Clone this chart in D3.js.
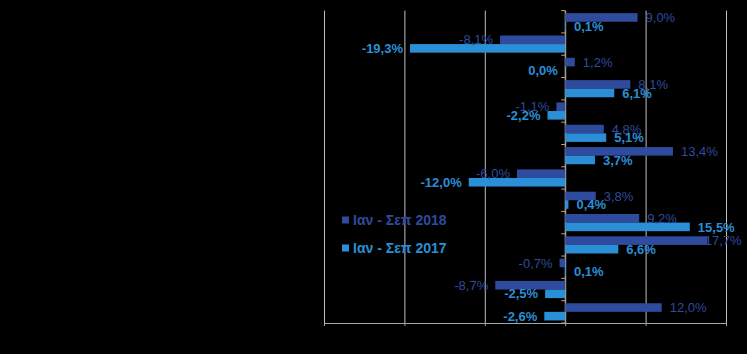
<!DOCTYPE html>
<html lang="el">
<head>
<meta charset="utf-8" />
<title>Ιαν - Σεπ 2018 / 2017</title>
<script src="https://cdnjs.cloudflare.com/ajax/libs/d3/7.8.5/d3.min.js"></script>
<style>
    html, body { margin: 0; padding: 0; background: #000; }
    svg { display: block; font-family: Arial, "Liberation Sans", sans-serif; }
    .lbl { font-size: 13px; }
</style>
</head>
<body>
<div id="chart"></div>
<script>
    // data (category names are not visible)
    const categories = d3.range(1, 15).map(String);
    const seriesNames = ["Ιαν - Σεπ 2018", "Ιαν - Σεπ 2017"];
    const values2018 = [9.0, -8.1, 1.2, 8.1, -1.1, 4.8, 13.4, -6.0, 3.8, 9.2, 17.7, -0.7, -8.7, 12.0];
    const values2017 = [0.1, -19.3, -0.04, 6.1, -2.2, 5.1, 3.7, -12.0, 0.4, 15.5, 6.6, 0.1, -2.5, -2.6];
    const xTicks = [-30, -20, -10, 0, 10, 20];

    const colors = ["#2E4B9E", "#2A8FD6"];
    const width = 747, height = 354;

    const svg = d3.select("#chart").append("svg")
        .attr("width", width)
        .attr("height", height);

    const x = d3.scaleLinear().domain([-30, 20]).range([324, 726]);
    const y = d3.scaleBand().domain(categories).range([10.6, 323]);
    const ySub = d3.scaleBand().domain([0, 1]).range([0, y.bandwidth()]).paddingOuter(0.3);

    // gridlines + bottom axis
    svg.append("g")
        .attr("transform", "translate(0,323)")
        .call(d3.axisBottom(x).tickValues(xTicks).tickSizeInner(-312.4).tickSizeOuter(0).tickFormat(""))
        .call(g => g.selectAll(".tick line").attr("stroke", "#bfbfbf").attr("stroke-width", 1))
        .call(g => g.select(".domain").attr("stroke", "#a6a6a6"));
    // little stubs under the bottom axis
    svg.append("g")
        .attr("transform", "translate(0,323)")
        .call(d3.axisBottom(x).tickValues(xTicks).tickSize(3).tickFormat(""))
        .call(g => g.select(".domain").remove())
        .call(g => g.selectAll(".tick line").attr("stroke", "#a6a6a6"));

    // category axis at zero
    const catAxis = svg.append("g")
        .attr("transform", `translate(${x(0)},0)`);
    catAxis.append("line")
        .attr("y1", y.range()[0]).attr("y2", y.range()[1])
        .attr("stroke", "#a6a08c");
    catAxis.selectAll("line.tk")
        .data(categories.concat([null]))
        .join("line")
        .attr("class", "tk")
        .attr("x1", -4).attr("x2", 0)
        .attr("y1", (d, i) => y.range()[0] + i * y.step())
        .attr("y2", (d, i) => y.range()[0] + i * y.step())
        .attr("stroke", "#c8a264");

    const rows = categories.map((c, i) => ({ c, v: [values2018[i], values2017[i]] }));
    const fmt = v => {
        const s = Math.abs(v).toFixed(1).replace(".", ",");
        return (v < 0 && s !== "0,0" ? "-" : "") + s + "%";
    };

    const grp = svg.append("g").selectAll("g")
        .data(rows)
        .join("g")
        .attr("transform", d => `translate(0,${y(d.c)})`);

    [0, 1].forEach(s => {
        grp.append("rect")
            .attr("x", d => x(Math.min(0, d.v[s])))
            .attr("y", ySub(s))
            .attr("width", d => Math.abs(x(d.v[s]) - x(0)))
            .attr("height", ySub.bandwidth())
            .attr("fill", colors[s]);
    });

    [1, 0].forEach(s => {
        grp.append("text")
            .attr("class", "lbl")
            .attr("fill", colors[s])
            .attr("font-weight", s === 1 ? "bold" : "normal")
            .attr("y", ySub(s) + ySub.bandwidth() / 2)
            .attr("dy", "0.36em")
            .attr("text-anchor", d => d.v[s] < 0 ? "end" : "start")
            .attr("x", d => d.v[s] < 0 ? x(d.v[s]) - 7 : x(d.v[s]) + 8)
            .text(d => fmt(d.v[s]))
            .each(function () {
                const b = this.getBBox();
                if (b.x + b.width > 742) d3.select(this).attr("x", 742 - b.width);
            });
    });

    // legend
    const leg = svg.append("g").selectAll("g")
        .data(seriesNames)
        .join("g")
        .attr("transform", (d, i) => `translate(342,${220 + i * 28})`);
    leg.append("rect")
        .attr("x", 0).attr("y", -3.5)
        .attr("width", 7).attr("height", 7)
        .attr("fill", (d, i) => colors[i]);
    leg.append("text")
        .attr("x", 11)
        .attr("dy", "0.36em")
        .attr("font-size", "14px")
        .attr("font-weight", "bold")
        .attr("fill", (d, i) => colors[i])
        .text(d => d);
</script>
</body>
</html>
